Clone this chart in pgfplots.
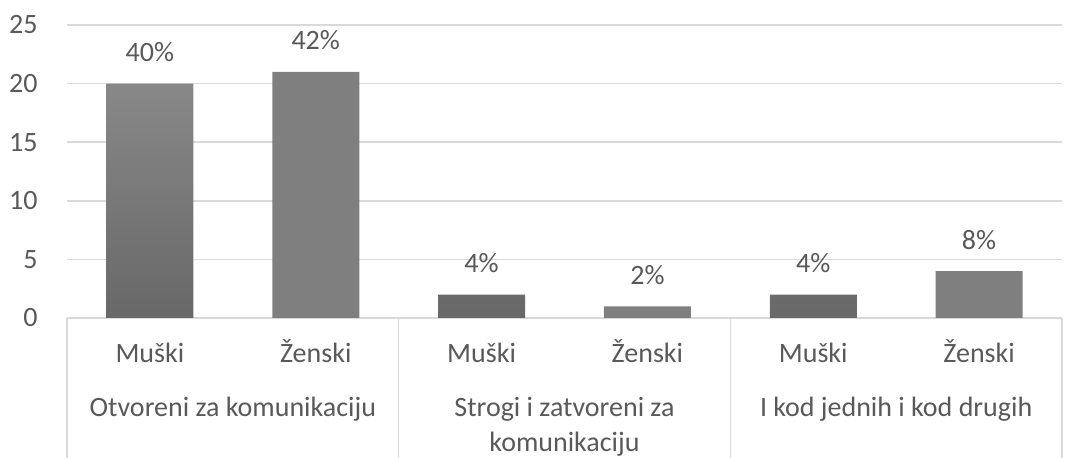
\documentclass[border=0pt]{standalone}
\usepackage{fontspec}
\setmainfont{Carlito}
\usepackage{pgfplots}
\pgfplotsset{compat=1.18}

\definecolor{txt}{HTML}{595959}
\definecolor{gridgray}{HTML}{D9D9D9}
\definecolor{bartop}{HTML}{888888}
\definecolor{barbot}{HTML}{686868}
\definecolor{barflat}{HTML}{7F7F7F}

\begin{document}
\begin{tikzpicture}[font=\fontsize{14}{17}\selectfont]
\useasboundingbox (-33.5pt,-70pt) rectangle (503.5pt,159pt);
\begin{axis}[
  scale only axis,
  width=497.5pt, height=146.5pt,
  xmin=-0.5, xmax=5.5,
  ymin=0, ymax=25,
  ytick={0,5,...,25},
  xtick={0,...,5},
  xticklabels={Muški,Ženski,Muški,Ženski,Muški,Ženski},
  /pgf/number format/assume math mode=true,
  ticklabel style={text=txt},
  yticklabel style={anchor=east, inner xsep=0pt, xshift=-14.5pt},
  xticklabel style={anchor=base, inner sep=0pt, yshift=-22.5pt},
  major tick length=0pt,
  axis x line*=bottom, axis y line*=left,
  y axis line style={draw=none},
  x axis line style={draw=gridgray, line width=0.8pt, -},
  ymajorgrids, grid style={gridgray, line width=0.8pt},
  ybar, bar width=43.5pt, bar shift=0pt,
  nodes near coords,
  point meta=explicit symbolic,
  every node near coord/.append style={text=txt, anchor=base, inner sep=0pt, yshift=11pt},
  clip=false,
]
\addplot[draw=none, top color=bartop, bottom color=barbot]
  coordinates {(0,20) [40\%] (2,2) [4\%] (4,2) [4\%]};
\addplot[draw=none, fill=barflat]
  coordinates {(1,21) [42\%] (3,1) [2\%] (5,4) [8\%]};

\pgfplotsinvokeforeach{-0.5,1.5,3.5,5.5}{
  \draw[gridgray, line width=0.8pt] (axis cs:#1,0) -- ([yshift=-70pt]axis cs:#1,0);
}

\node[text=txt, anchor=base, inner sep=0pt] at ([yshift=-49.5pt]axis cs:0.5,0) {Otvoreni za komunikaciju};
\node[text=txt, anchor=base, inner sep=0pt] at ([yshift=-49.5pt]axis cs:2.5,0) {Strogi i zatvoreni za};
\node[text=txt, anchor=base, inner sep=0pt] at ([yshift=-67pt]axis cs:2.5,0) {komunikaciju};
\node[text=txt, anchor=base, inner sep=0pt] at ([yshift=-49.5pt]axis cs:4.5,0) {I kod jednih i kod drugih};
\end{axis}
\end{tikzpicture}
\end{document}
